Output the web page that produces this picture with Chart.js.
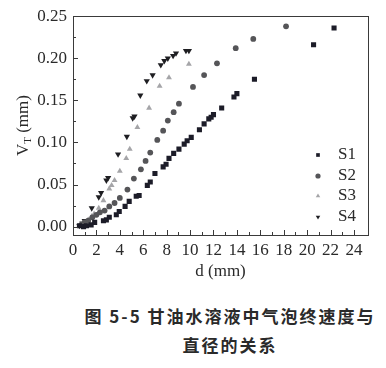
<!DOCTYPE html>
<html>
<head>
<meta charset="utf-8">
<script src="https://cdn.jsdelivr.net/npm/chart.js@4"></script>
<style>
  html, body { margin: 0; padding: 0; background: #fff; }
  #wrap { position: relative; width: 386px; height: 368px; }
  #c { position: absolute; left: 0; top: 0; }
  .cap {
    position: absolute; left: 0; width: 460px; text-align: center;
    font-family: "Noto Sans CJK SC", sans-serif; font-weight: 700;
    font-size: 17px; letter-spacing: 2px; color: #2a2a2a; white-space: nowrap;
  }
</style>
</head>
<body>
<div id="wrap">
  <canvas id="c" width="386" height="290"></canvas>
  <div class="cap" style="top:303px">图 5-5 甘油水溶液中气泡终速度与</div>
  <div class="cap" style="top:332px">直径的关系</div>
</div>
<script>
// bubble diameter d (mm) vs terminal velocity V_T, four glycerol solutions
const s1X = [0.55, 0.9, 1.15, 1.55, 1.85, 2.6, 2.85, 3.1, 3.7, 3.95, 4.45, 4.8, 5.4, 5.65, 6.35, 6.6, 7.0, 7.7, 7.95, 8.2, 8.6, 9.05, 9.5, 9.75, 10.1, 10.8, 11.2, 11.6, 11.8, 12.0, 12.7, 13.75, 14.0, 15.5, 20.55, 22.3];
const s1Y = [0.001, 0.000, 0.001, 0.002, 0.005, 0.007, 0.008, 0.011, 0.014, 0.018, 0.024, 0.030, 0.036, 0.037, 0.049, 0.053, 0.063, 0.071, 0.074, 0.081, 0.087, 0.092, 0.098, 0.102, 0.106, 0.115, 0.122, 0.128, 0.130, 0.133, 0.141, 0.154, 0.158, 0.175, 0.216, 0.236];

const s2X = [0.7, 1.0, 1.3, 1.65, 2.0, 2.3, 2.7, 3.1, 3.55, 4.0, 4.65, 5.2, 5.8, 6.2, 6.6, 7.2, 7.7, 8.1, 8.6, 9.05, 10.25, 11.2, 12.3, 13.9, 15.4, 18.2];
const s2Y = [0.002, 0.005, 0.007, 0.011, 0.014, 0.017, 0.019, 0.024, 0.028, 0.034, 0.044, 0.057, 0.068, 0.078, 0.088, 0.103, 0.114, 0.126, 0.136, 0.146, 0.166, 0.180, 0.194, 0.212, 0.223, 0.238];

const s3X = [1.0, 1.3, 1.6, 1.8, 2.2, 2.6, 3.1, 3.3, 3.55, 4.0, 4.55, 4.85, 5.5, 6.5, 7.4, 8.2, 9.9];
const s3Y = [0.004, 0.008, 0.012, 0.015, 0.022, 0.031, 0.045, 0.049, 0.055, 0.066, 0.081, 0.092, 0.118, 0.141, 0.167, 0.177, 0.193];

const s4X = [0.55, 0.8, 1.0, 1.6, 2.2, 2.4, 2.85, 3.0, 3.85, 4.6, 5.1, 5.25, 5.75, 6.3, 6.8, 7.5, 7.8, 8.1, 8.55, 8.8, 9.65, 9.9];
const s4Y = [0.001, 0.004, 0.007, 0.022, 0.035, 0.040, 0.055, 0.058, 0.086, 0.107, 0.129, 0.131, 0.156, 0.173, 0.180, 0.192, 0.197, 0.200, 0.203, 0.206, 0.209, 0.209];

const seriesNames = ['S1', 'S2', 'S3', 'S4'];
const xTicks = [0, 2, 4, 6, 8, 10, 12, 14, 16, 18, 20, 22, 24];
const yTicks = [0.00, 0.05, 0.10, 0.15, 0.20, 0.25];

const serif = '"Liberation Serif", "DejaVu Serif", serif';
const toPts = (xs, ys) => xs.map((x, i) => ({ x: x, y: ys[i] }));

function makeSet(label, xs, ys, style, color, radius, rotation) {
    return {
        label: label,
        data: toPts(xs, ys),
        pointStyle: style,
        pointRadius: radius,
        pointRotation: rotation || 0,
        backgroundColor: color,
        borderColor: color,
        borderWidth: 0,
        showLine: false
    };
}

const frame = {
    id: 'frame',
    afterDraw(chart) {
        const ctx = chart.ctx;
        const a = chart.chartArea;
        const xs = chart.scales.x, ys = chart.scales.y;
        ctx.save();
        ctx.strokeStyle = '#3a3a3a';
        ctx.lineWidth = 1;
        ctx.strokeRect(Math.round(a.left) + 0.5, Math.round(a.top) + 0.5,
            Math.round(a.right - a.left), Math.round(a.bottom - a.top));

        // inward ticks
        ctx.beginPath();
        for (let v = 0; v <= 24; v++) {
            const px = Math.round(xs.getPixelForValue(v)) + 0.5;
            const len = v % 2 === 0 ? 5 : 3;
            ctx.moveTo(px, a.bottom);
            ctx.lineTo(px, a.bottom - len);
        }
        for (let k = 0; k <= 10; k++) {
            const v = k * 0.025;
            const py = Math.round(ys.getPixelForValue(v)) + 0.5;
            const len = k % 2 === 0 ? 5 : 3;
            ctx.moveTo(a.left, py);
            ctx.lineTo(a.left + len, py);
        }
        ctx.stroke();

        // axis titles
        ctx.fillStyle = '#2a2a2a';
        ctx.font = '17px ' + serif;
        ctx.textAlign = 'center';
        ctx.textBaseline = 'middle';
        ctx.fillText('d (mm)', (a.left + a.right) / 2, 272);

        ctx.save();
        ctx.translate(22, (a.top + a.bottom) / 2);
        ctx.rotate(-Math.PI / 2);
        const main = 'V', rest = ' (mm)';
        ctx.font = '17px ' + serif;
        const wV = ctx.measureText(main).width;
        const wR = ctx.measureText(rest).width;
        ctx.font = '11px ' + serif;
        const wT = ctx.measureText('T').width;
        let x0 = -(wV + wT + wR) / 2;
        ctx.textAlign = 'left';
        ctx.textBaseline = 'alphabetic';
        ctx.font = '17px ' + serif;
        ctx.fillText(main, x0, 6);
        ctx.font = '11px ' + serif;
        ctx.fillText('T', x0 + wV, 9);
        ctx.font = '17px ' + serif;
        ctx.fillText(rest, x0 + wV + wT, 6);
        ctx.restore();

        // legend inside the plot
        const rowsY = [155, 176, 196, 217];
        chart.data.datasets.forEach((ds, i) => {
            ctx.fillStyle = ds.backgroundColor;
            ctx.strokeStyle = ds.backgroundColor;
            Chart.helpers.drawPoint(ctx, {
                pointStyle: ds.pointStyle,
                radius: 2.6,
                rotation: ds.pointRotation,
                borderWidth: 0
            }, 318, rowsY[i]);
            ctx.fillStyle = '#2a2a2a';
            ctx.font = '17px ' + serif;
            ctx.textAlign = 'left';
            ctx.textBaseline = 'middle';
            ctx.fillText(seriesNames[i], 338, rowsY[i]);
        });
        ctx.restore();
    }
};

new Chart(document.getElementById('c').getContext('2d'), {
    type: 'scatter',
    data: {
        datasets: [
            makeSet(seriesNames[0], s1X, s1Y, 'rect', '#1c1c28', 3.6),
            makeSet(seriesNames[1], s2X, s2Y, 'circle', '#555558', 2.9),
            makeSet(seriesNames[2], s3X, s3Y, 'triangle', '#a5a5a8', 3.4),
            makeSet(seriesNames[3], s4X, s4Y, 'triangle', '#1e1e22', 3.6, 180)
        ]
    },
    options: {
        responsive: false,
        animation: false,
        devicePixelRatio: 1,
        layout: { padding: { top: 15, right: 18, left: 0, bottom: 0 } },
        plugins: {
            legend: { display: false },
            tooltip: { enabled: false }
        },
        scales: {
            x: {
                type: 'linear',
                min: 0,
                max: 25.2,
                grid: { display: false, drawTicks: false },
                border: { display: false },
                afterFit: (s) => { s.height = 55; },
                afterBuildTicks: (s) => { s.ticks = xTicks.map(v => ({ value: v })); },
                ticks: {
                    color: '#2a2a2a',
                    font: { family: serif, size: 17 },
                    padding: 5,
                    maxRotation: 0,
                    autoSkip: false
                }
            },
            y: {
                type: 'linear',
                min: -0.01,
                max: 0.25,
                grid: { display: false, drawTicks: false },
                border: { display: false },
                afterFit: (s) => { s.width = 73; },
                afterBuildTicks: (s) => { s.ticks = yTicks.map(v => ({ value: v })); },
                ticks: {
                    color: '#2a2a2a',
                    font: { family: serif, size: 17 },
                    padding: 6,
                    callback: (v) => v.toFixed(2)
                }
            }
        }
    },
    plugins: [frame]
});
</script>
</body>
</html>
